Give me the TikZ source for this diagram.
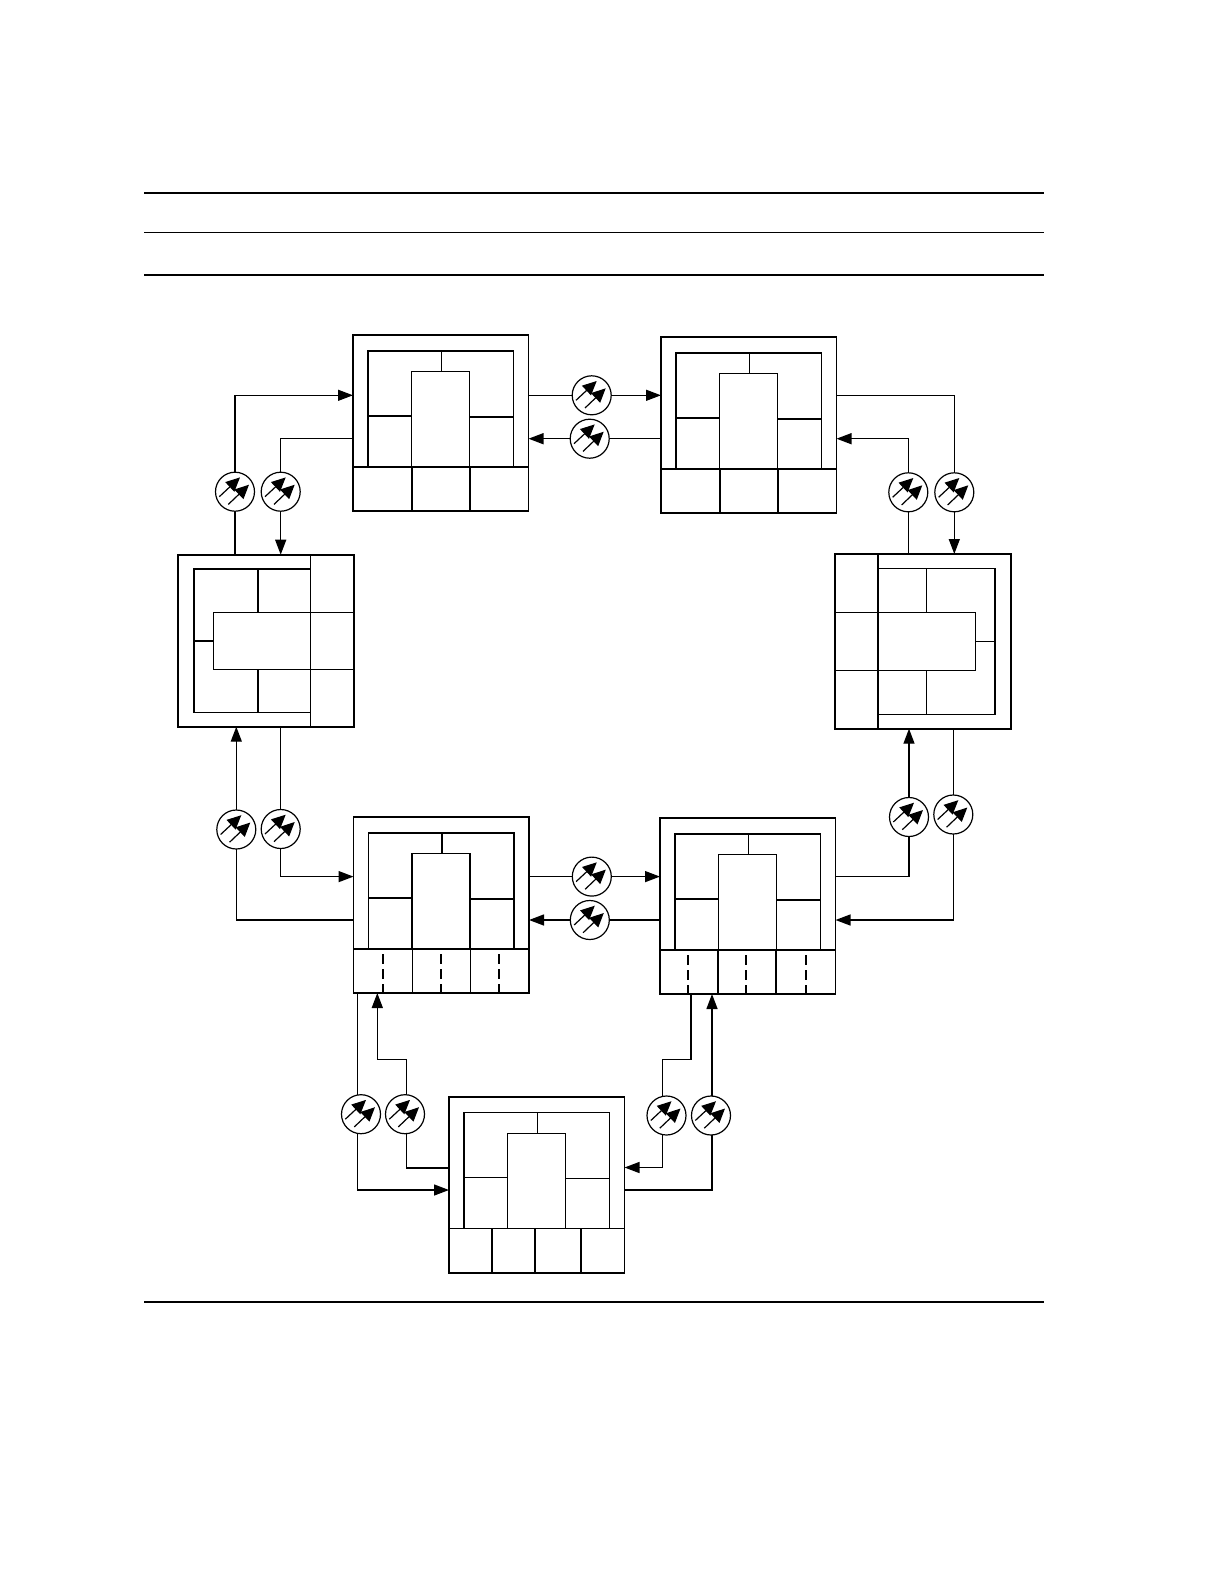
\documentclass[tikz,border=0pt]{standalone}
\usetikzlibrary{arrows.meta, calc, backgrounds}
\tikzset{
  outerbox/.style={rectangle, draw, line width=1.9pt, anchor=north west, inner sep=0pt, outer sep=0pt, minimum width=#1},
  outerbox/.default=175.5pt,
  inner/.style={line width=1.4pt},
  thinrule/.style={line width=1pt},
  thickrule/.style={line width=1.6pt},
  conn/.style={line width=1.4pt},
  arrow/.style={conn, -{Triangle[length=15pt,width=11pt]}},
  dashrow/.style={line width=1.3pt, dash pattern=on 10pt off 5pt},
  tiny arrow/.style={line width=1.2pt, -{Triangle[length=14pt,width=13pt]}},
  amp/.style={circle, draw, line width=1.2pt, fill=white, inner sep=0pt, minimum size=39pt,
    path picture={
      \draw[tiny arrow] ([shift={(-15.7,5)}]path picture bounding box.center) -- ([shift={(5,-14.3)}]path picture bounding box.center);
      \draw[tiny arrow] ([shift={(-6.7,12.7)}]path picture bounding box.center) -- ([shift={(14,-7)}]path picture bounding box.center);
    }},
}
% upright box: name, x, y, dividers of the bottom row
\newcommand{\ringbox}[4]{%
  \node[outerbox, minimum height=176pt] (#1) at (#2,#3) {};
  \begin{scope}[shift={(#2,#3)}]
    \draw[inner] (15,132) -- (15,16) -- (160.5,16) -- (160.5,132);
    \draw[inner] (58.5,132) -- (58.5,36.5) -- (116.5,36.5) -- (116.5,132);
    \draw[inner] (88.5,16) -- (88.5,36.5);
    \draw[inner] (15,81) -- (58.5,81);
    \draw[inner] (116.5,82) -- (160.5,82);
    \draw[inner] (0,132) -- (175.5,132);
    \foreach \xcell in {#4}{
      \draw[inner] (\xcell,132) -- (\xcell,176);
    }
  \end{scope}
}
\begin{document}
\begin{tikzpicture}[x=1pt, y=-1pt]
\useasboundingbox (0,0) rectangle (1224,1584);

%% rules
\draw[thickrule] (144.4,193) -- (1044,193);
\draw[thinrule] (144.4,232.5) -- (1044,232.5);
\draw[thickrule] (144.4,275) -- (1044,275);
\draw[thickrule] (144.4,1302) -- (1044,1302);

%% upright boxes
\ringbox{boxA}{353}{335}{59,117}
\ringbox{boxB}{661}{337}{59,117}
\ringbox{boxE}{353.5}{817}{59,117}
\ringbox{boxF}{660}{818}{58,116}
\ringbox{boxG}{449}{1096.7}{43,86,132}

%% dashes in the lower boxes
\foreach \xdash in {383,441,499}{
  \draw[dashrow] (\xdash,954) -- (boxE.south -| \xdash,0);
}
\foreach \xdash in {688,746,806}{
  \draw[dashrow] (\xdash,955) -- (boxF.south -| \xdash,0);
}

%% left box
\node[outerbox=176pt, minimum height=172pt] (boxC) at (178,554.7) {};
\begin{scope}[shift={(178,554.7)}]
  \draw[inner] (132.3,14.3) -- (16,14.3) -- (16,158) -- (132.3,158);
  \draw[inner] (132.3,0) -- (132.3,172);
  \draw[inner] (176,57.6) -- (35.7,57.6) -- (35.7,115) -- (176,115);
  \draw[inner] (16,86.3) -- (35.7,86.3);
  \draw[inner] (80,14.3) -- (80,57.6);
  \draw[inner] (80,115) -- (80,158);
\end{scope}

%% right box
\node[outerbox=176.6pt, minimum height=174.7pt] (boxD) at (834.7,554) {};
\begin{scope}[shift={(834.7,554)}]
  \draw[inner] (43.3,14.7) -- (160.3,14.7) -- (160.3,160.3) -- (43.3,160.3);
  \draw[inner] (43.3,0) -- (43.3,174.7);
  \draw[inner] (0,58.3) -- (141,58.3) -- (141,116.3) -- (0,116.3);
  \draw[inner] (141,87.7) -- (160.3,87.7);
  \draw[inner] (91.6,14.7) -- (91.6,58.3);
  \draw[inner] (91.6,116.3) -- (91.6,160.3);
\end{scope}

%% amplifiers
\node[amp] (ampAB) at (591.7,395.3) {};
\node[amp] (ampBA) at (589.7,438.7) {};
\node[amp] (ampCA) at (235,491.7) {};
\node[amp] (ampAC) at (280.7,491.7) {};
\node[amp] (ampDB) at (908.3,492.3) {};
\node[amp] (ampBD) at (954.3,492.3) {};
\node[amp] (ampEC) at (236.3,829.5) {};
\node[amp] (ampCE) at (280.7,829) {};
\node[amp] (ampEF) at (591.8,876.6) {};
\node[amp] (ampFE) at (589.8,920) {};
\node[amp] (ampFD) at (909,817) {};
\node[amp] (ampDF) at (953.3,814.5) {};
\node[amp] (ampEG) at (361,1114.2) {};
\node[amp] (ampGE) at (405,1114.2) {};
\node[amp] (ampFG) at (666.5,1115.5) {};
\node[amp] (ampGF) at (711,1115.5) {};

%% bends of the lower links
\coordinate (jEG) at (357.3,1190);
\coordinate (jGE) at (406.3,1168);
\coordinate (kGE) at (377.3,1059.3);
\coordinate (kFG) at (690.8,1059.4);
\coordinate (jFG) at (662.5,1167.5);
\coordinate (jGF) at (712,1190);

%% connectors
\begin{pgfonlayer}{background}
  \draw[arrow] (boxC.north -| ampCA) -- (ampCA.center) |- (boxA.west |- ampAB);
  \draw[arrow] (boxA.west |- ampBA) -| (ampAC.center) -- (boxC.north -| ampAC);
  \draw[arrow] (boxA.east |- ampAB) -- (ampAB.center) -- (boxB.west |- ampAB);
  \draw[arrow] (boxB.west |- ampBA) -- (ampBA.center) -- (boxA.east |- ampBA);
  \draw[arrow] (boxB.east |- ampAB) -| (ampBD.center) -- (boxD.north -| ampBD);
  \draw[arrow] (boxD.north -| ampDB) -- (ampDB.center) |- (boxB.east |- ampBA);

  \draw[arrow] (boxE.west |- ampFE) -| (ampEC.center) -- (boxC.south -| ampEC);
  \draw[arrow] (boxC.south -| ampCE) -- (ampCE.center) |- (boxE.west |- ampEF);
  \draw[arrow] (boxE.east |- ampEF) -- (ampEF.center) -- (boxF.west |- ampEF);
  \draw[arrow] (boxF.west |- ampFE) -- (ampFE.center) -- (boxE.east |- ampFE);
  \draw[arrow] (boxF.east |- ampEF) -| (ampFD.center) -- (boxD.south -| ampFD);
  \draw[arrow] (boxD.south -| ampDF) -- (ampDF.center) |- (boxF.east |- ampFE);

  \draw[arrow] (boxE.south -| jEG) -- (jEG) -- (boxG.west |- jEG);
  \draw[arrow] (boxG.west |- jGE) -- (jGE) |- (kGE) -- (boxE.south -| kGE);
  \draw[arrow] (boxF.south -| kFG) -- (kFG) -| (jFG) -- (boxG.east |- jFG);
  \draw[arrow] (boxG.east |- jGF) -- (jGF) -- (boxF.south -| jGF);
\end{pgfonlayer}

\end{tikzpicture}
\end{document}
